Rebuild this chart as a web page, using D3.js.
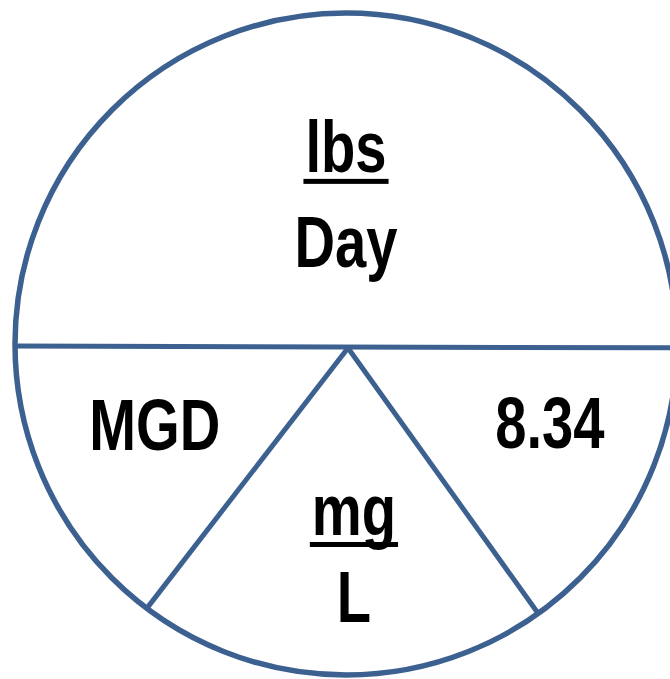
<!DOCTYPE html>
<html>
<head>
<meta charset="utf-8">
<script src="https://cdn.jsdelivr.net/npm/d3@7"></script>
<style>
  body { margin: 0; background: #fff; }
  svg { display: block; }
  .lbl { font-family: "Liberation Sans", Arial, sans-serif; font-weight: bold; fill: #000; }
</style>
</head>
<body>
<script>
// section labels of the wheel
var sectionNames = ["top", "left", "bottom", "right"];
var numerators = ["lbs", "MGD", "mg", "8.34"];
var denominators = ["Day", "", "L", ""];
var underlined = [true, false, true, false];

var width = 670, height = 679;
var cx = 346, cy = 344, r = 331;
var lineColor = "#3c6190";

var svg = d3.select("body").append("svg")
    .attr("width", width)
    .attr("height", height);

// unit coordinates -> pixels
var x = d3.scaleLinear().domain([-1, 1]).range([cx - r, cx + r]);
var y = d3.scaleLinear().domain([-1, 1]).range([cy - r, cy + r]);

// outer circle
svg.append("circle")
    .attr("cx", x(0))
    .attr("cy", y(0))
    .attr("r", r)
    .style("fill", "none")
    .style("stroke", lineColor)
    .style("stroke-width", 5.5);

// horizontal divider
var divY = 0.009;
svg.append("line")
    .attr("x1", x(-1)).attr("y1", y(divY) - 1)
    .attr("x2", x(1.1)).attr("y2", y(divY) + 1)
    .style("stroke", lineColor)
    .style("stroke-width", 5);

// triangle sides from apex to circle
var apex = [0.006, 0.012];
var baseAngles = [127.0, 54.5]; // degrees, measured clockwise from +x
var tri = svg.append("g");
baseAngles.forEach(function(a){
    var t = a * Math.PI / 180;
    tri.append("line")
        .attr("x1", x(apex[0])).attr("y1", y(apex[1]))
        .attr("x2", x(Math.cos(t))).attr("y2", y(Math.sin(t)))
        .style("stroke", lineColor)
        .style("stroke-width", 5);
});

// label anchors in unit coordinates (center x, baseline y)
var anchors = [
    { x: 0.0, y: -0.52, dy: 0.287 },
    { x: -0.578, y: 0.32, dy: 0 },
    { x: 0.024, y: 0.577, dy: 0.263 },
    { x: 0.616, y: 0.314, dy: 0 }
];
var fontSize = 72, squeeze = 0.78;

var groups = svg.selectAll(".section")
    .data(sectionNames)
    .enter()
    .append("g")
    .attr("class", "section");

groups.each(function(d, i){
    var g = d3.select(this);
    var a = anchors[i];
    var num = g.append("text")
        .attr("class", "lbl")
        .attr("text-anchor", "middle")
        .attr("font-size", fontSize)
        .attr("transform", "translate(" + x(a.x) + "," + y(a.y) + ") scale(" + squeeze + ",1)")
        .text(numerators[i]);
    if (underlined[i]) {
        var w = num.node().getComputedTextLength() * squeeze;
        g.append("rect")
            .attr("x", x(a.x) - w / 2 - 2)
            .attr("y", y(a.y) + 7)
            .attr("width", w + 4)
            .attr("height", 5)
            .style("fill", "#000");
    }
    if (denominators[i]) {
        g.append("text")
            .attr("class", "lbl")
            .attr("text-anchor", "middle")
            .attr("font-size", fontSize)
            .attr("transform", "translate(" + x(a.x) + "," + y(a.y + a.dy) + ") scale(" + squeeze + ",1)")
            .text(denominators[i]);
    }
});
</script>
</body>
</html>
